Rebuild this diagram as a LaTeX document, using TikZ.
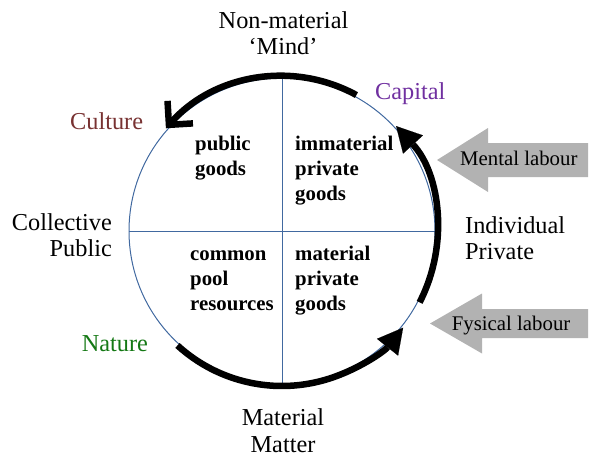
\documentclass[tikz,border=0pt]{standalone}
\usepackage{fontspec}
\setmainfont{Liberation Serif}
\usetikzlibrary{arrows.meta}
\definecolor{circblue}{RGB}{65,105,160}
\definecolor{capcol}{RGB}{112,48,160}
\definecolor{culcol}{RGB}{120,50,50}
\definecolor{natcol}{RGB}{20,120,20}
\definecolor{arrgrey}{RGB}{178,178,178}
\begin{document}
\begin{tikzpicture}[x=1pt,y=1pt,
  lbl/.style={inner sep=0pt, font=\fontsize{24.3}{28}\selectfont},
  qlbl/.style={inner sep=0pt, font=\fontsize{20.8}{25}\selectfont\bfseries},
  albl/.style={inner sep=0pt, font=\fontsize{20.8}{25}\selectfont},
  cyclearc/.style={line width=6.5pt},
  circline/.style={draw=circblue, line width=1pt},
  bigtri/.style={-{Triangle[length=25pt,width=27pt,line width=0.1pt]}},
  bigbarb/.style={-{Straight Barb[length=17pt,width=34pt]}}
]
\useasboundingbox (0,0) rectangle (589,459);
% circle and quadrant lines
\node[circle, circline, minimum size=306pt, inner sep=0pt, outer sep=0pt] (circ) at (282,228) {};
\draw[circline] (circ.north) -- (circ.south);
\draw[circline] (circ.west) -- (circ.east);
\coordinate (C) at (282,228);
% thick cycle arcs
\draw[cyclearc, bigbarb] ([shift={(61.3:155)}]C) arc[start angle=61.3, end angle=138.5, radius=155];
\draw[cyclearc, bigtri] ([shift={(-27.4:155)}]C) arc[start angle=-27.4, end angle=42.6, radius=155];
\draw[cyclearc, bigtri] ([shift={(-132.4:155)}]C) arc[start angle=-132.4, end angle=-38.6, radius=155];
% grey input arrows
\fill[arrgrey] (437,299) -- (488,331) -- (488,316) -- (588,316) -- (588,282) -- (488,282) -- (488,267) -- cycle;
\fill[arrgrey] (430,135.5) -- (482,165.5) -- (482,150) -- (588,150) -- (588,121) -- (482,121) -- (482,105.5) -- cycle;
\node[albl, anchor=base west] (ml) at (460,294) {Mental labour};
\node[albl, anchor=base west] (fl) at (451.7,129) {Fysical labour};
% outer labels
\node[lbl, anchor=base] (nm1) at (283.5,430.7) {Non-material};
\node[lbl, anchor=base] (nm2) at (283,404) {‘Mind’};
\node[lbl, anchor=base west, text=capcol] (cap) at (375,359.7) {Capital};
\node[lbl, anchor=base west, text=culcol] (cul) at (70,329.7) {Culture};
\node[lbl, anchor=base east] (col) at (112,229) {Collective};
\node[lbl, anchor=base east] (pub) at (112,203) {Public};
\node[lbl, anchor=base west] (ind) at (465,225.7) {Individual};
\node[lbl, anchor=base west] (pri) at (465,199.5) {Private};
\node[lbl, anchor=base west, text=natcol] (nat) at (81.7,107.3) {Nature};
\node[lbl, anchor=base] (mat1) at (283,34) {Material};
\node[lbl, anchor=base] (mat2) at (283,6.5) {Matter};
% quadrant labels
\node[qlbl, anchor=base west] (pg1) at (195,309) {public};
\node[qlbl, anchor=base west] (pg2) at (195,284) {goods};
\node[qlbl, anchor=base west] (ip1) at (295,309) {immaterial};
\node[qlbl, anchor=base west] (ip2) at (295,284) {private};
\node[qlbl, anchor=base west] (ip3) at (295,259) {goods};
\node[qlbl, anchor=base west] (cp1) at (190,199) {common};
\node[qlbl, anchor=base west] (cp2) at (190,174) {pool};
\node[qlbl, anchor=base west] (cp3) at (190,149) {resources};
\node[qlbl, anchor=base west] (mp1) at (295,199) {material};
\node[qlbl, anchor=base west] (mp2) at (295,174) {private};
\node[qlbl, anchor=base west] (mp3) at (295,149) {goods};
\end{tikzpicture}
\end{document}
